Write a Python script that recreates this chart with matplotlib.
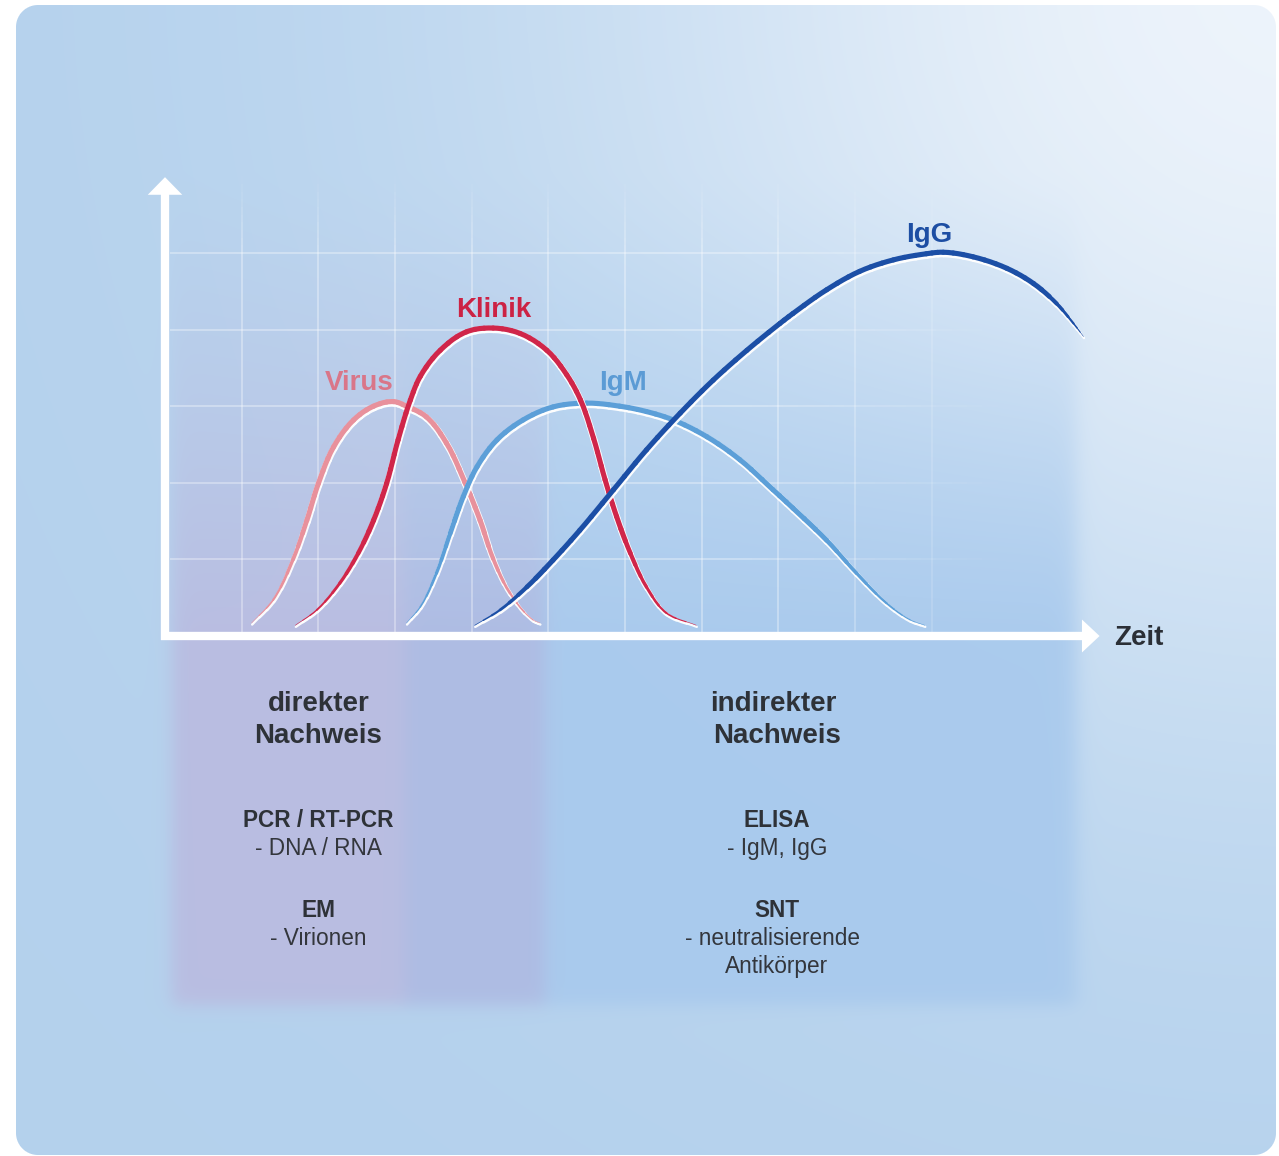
import numpy as np
import matplotlib
matplotlib.use("Agg")
import matplotlib.pyplot as plt
from matplotlib.path import Path
from matplotlib.collections import PathCollection, LineCollection
from matplotlib.patches import Polygon
from matplotlib.transforms import ScaledTranslation

plt.rcParams['font.family'] = ['Liberation Sans', 'DejaVu Sans']

# ---------------- data (schematic curves; grid units) ----------------
virus_x = [1.13, 1.41, 1.67, 1.85, 2.00, 2.20, 2.46, 2.72, 2.98, 3.15, 3.41, 3.67, 3.91, 4.11, 4.28, 4.50, 4.80, 4.89]
virus_y = [0.17, 0.47, 1.00, 1.51, 1.99, 2.47, 2.82, 3.00, 3.06, 3.00, 2.86, 2.52, 2.01, 1.51, 1.01, 0.56, 0.21, 0.17]

klinik_x = [1.70, 1.98, 2.28, 2.52, 2.72, 2.89, 3.04, 3.20, 3.33, 3.59, 3.93, 4.28, 4.63, 4.98, 5.24, 5.42,
            5.59, 5.74, 5.89, 6.07, 6.28, 6.54, 6.93]
klinik_y = [0.14, 0.34, 0.69, 1.08, 1.51, 1.99, 2.56, 3.08, 3.39, 3.73, 3.97, 4.02, 3.95, 3.73, 3.41, 3.08,
            2.58, 2.04, 1.56, 1.08, 0.64, 0.30, 0.14]

igm_x = [3.15, 3.33, 3.54, 3.72, 3.89, 4.07, 4.33, 4.67, 5.06, 5.50, 5.93, 6.28, 6.63, 7.07, 7.50, 7.93,
         8.19, 8.63, 9.02, 9.41, 9.72, 9.91]
igm_y = [0.17, 0.38, 0.82, 1.34, 1.82, 2.21, 2.56, 2.82, 2.99, 3.04, 3.00, 2.93, 2.82, 2.60, 2.30, 1.91,
         1.67, 1.25, 0.82, 0.43, 0.21, 0.14]

igg_x = [4.04, 4.37, 4.72, 5.06, 5.41, 5.85, 6.28, 6.72, 7.15, 7.59, 8.02, 8.19, 8.63, 9.06, 9.50, 9.93,
         10.15, 10.54, 10.98, 11.33, 11.63, 11.85, 11.98]
igg_y = [0.14, 0.34, 0.64, 0.99, 1.38, 1.91, 2.43, 2.91, 3.34, 3.73, 4.08, 4.21, 4.52, 4.76, 4.91, 4.99,
         5.01, 4.95, 4.80, 4.60, 4.34, 4.08, 3.91]

series_names = ["Virus", "IgM", "Klinik", "IgG"]
series_colors = ["#e8919c", "#5c9fd8", "#d0264a", "#1c4fa6"]
label_colors = ["#d97689", "#5b9bd5", "#cc2244", "#1d4ea3"]

axis_label = "Zeit"

left_lines = ["direkter", "Nachweis", "PCR / RT-PCR", "- DNA / RNA", "EM", "- Virionen"]
left_bold = [True, True, True, False, True, False]
left_big = [True, True, False, False, False, False]
right_lines = ["indirekter", "Nachweis", "ELISA", "- IgM, IgG", "SNT", "- neutralisierende", "Antikörper"]
right_bold = [True, True, True, False, True, False, False]
right_big = [True, True, False, False, False, False, False]

# ---------------- geometry (pixels) ----------------
W, H = 1279, 1156
OX, OY = 165.0, 636.0      # pixel of data origin
U, V = 76.67, 76.6         # pixels per grid unit

# ---------------- background image ----------------
yy, xx = np.mgrid[0:H, 0:W].astype(float) + 0.5
sig = lambda z: 1.0 / (1.0 + np.exp(-z))

base = np.array([0.706, 0.820, 0.929])
light = np.array([0.950, 0.968, 0.990])
d = np.hypot(xx - 1300, yy + 30)
wgt = 0.92 * np.exp(-(d / 720.0) ** 2)
img = base[None, None, :] + wgt[..., None] * (light - base)[None, None, :]

c1 = np.array([0.727, 0.735, 0.880])
c2 = np.array([0.680, 0.730, 0.888])
c3 = np.array([0.660, 0.790, 0.930])
t12 = sig((xx - 405) / 5.0)[..., None]
t23 = sig((xx - 545) / 5.0)[..., None]
bcol = c1 * (1 - t12) + c2 * t12
bcol = bcol * (1 - t23) + c3 * t23
mx = sig((xx - 172) / 5.0) * sig((1076 - xx) / 6.0)
my = np.where(yy >= 636, sig((1005 - yy) / 5.0), np.clip((yy - 170) / 466.0, 0, 1) ** 1.3)
a = (0.92 * mx * my)[..., None]
img = img * (1 - a) + bcol * a

x0, x1, y0, y1, r = 16.0, 1276.0, 5.0, 1155.0, 22.0
cx, cy, hw, hh = (x0 + x1) / 2, (y0 + y1) / 2, (x1 - x0) / 2, (y1 - y0) / 2
qx = np.abs(xx - cx) - (hw - r)
qy = np.abs(yy - cy) - (hh - r)
sd = np.hypot(np.maximum(qx, 0), np.maximum(qy, 0)) + np.minimum(np.maximum(qx, qy), 0) - r
inside = np.clip(0.5 - sd, 0, 1)[..., None]
img = 1.0 * (1 - inside) + img * inside

# ---------------- figure ----------------
fig = plt.figure(figsize=(W / 100, H / 100), dpi=100)
fig.figimage(np.clip(img, 0, 1), 0, 0, origin='upper', zorder=-10)
ax = fig.add_axes([0, 0, 1, 1])
ax.set_zorder(5)
ax.set_xlim(-OX / U, (W - OX) / U)
ax.set_ylim((OY - H) / V, OY / V)
ax.axis('off')
ax.patch.set_alpha(0)

# grid (fading)
segs, cols = [], []
for k in range(1, 6):
    xs = np.arange(0.06, 11.0, 0.2)
    for xa in xs:
        xm = xa + 0.1
        al = 0.42 * np.clip((11.0 - xm) / 3.5, 0, 1)
        segs.append([(xa, k), (xa + 0.2, k)])
        cols.append((1, 1, 1, al))
for k in range(1, 11):
    ys = np.arange(0.0, 6.0, 0.1)
    for ya in ys:
        ym = ya + 0.05
        al = 0.42 * np.clip((6.0 - ym) / 1.0, 0, 1) * np.clip((11.5 - k) / 3.5, 0, 1)
        segs.append([(k, ya), (k, ya + 0.1)])
        cols.append((1, 1, 1, al))
ax.add_collection(LineCollection(segs, colors=cols, linewidths=1.1, zorder=1), autolim=False)


# curves: smooth Bezier path through the read points
def split_bezier(b, t):
    p0, p1, p2, p3 = b
    a_ = p0 + (p1 - p0) * t
    b_ = p1 + (p2 - p1) * t
    c_ = p2 + (p3 - p2) * t
    d_ = a_ + (b_ - a_) * t
    e_ = b_ + (c_ - b_) * t
    f_ = d_ + (e_ - d_) * t
    return [p0, a_, d_, f_], [f_, e_, c_, p3]


def unit(v):
    n = np.hypot(*v)
    return v / n if n > 0 else v


def bezier_pieces(xs, ys, sub=3):
    P = np.column_stack([xs, ys]).astype(float)
    n = len(P)
    D = []
    for i in range(n):
        if i == 0:
            D.append(unit(P[1] - P[0]))
        elif i == n - 1:
            D.append(unit(P[-1] - P[-2]))
        else:
            D.append(unit(unit(P[i + 1] - P[i]) + unit(P[i] - P[i - 1])))
    pieces = []
    for i in range(n - 1):
        L = np.hypot(*(P[i + 1] - P[i]))
        rest = [P[i], P[i] + D[i] * L / 3.0, P[i + 1] - D[i + 1] * L / 3.0, P[i + 1]]
        for k in range(sub, 1, -1):
            left, rest = split_bezier(rest, 1.0 / k)
            pieces.append(left)
        pieces.append(rest)
    return pieces


off = ScaledTranslation(0.5 / 100, -1.6 / 100, fig.dpi_scale_trans)
codes = [Path.MOVETO, Path.CURVE4, Path.CURVE4, Path.CURVE4]


def draw_curve(xs, ys, color, wmax, ta, tb, z):
    pieces = bezier_pieces(xs, ys)
    paths = [Path(np.array(pc), codes) for pc in pieces]
    L = np.array([np.hypot(*(pc[3] - pc[0])) for pc in pieces])
    c = np.cumsum(L)
    t = (c - L / 2) / c[-1]
    f = np.clip(np.minimum(t / ta, (1 - t) / tb), 0.05, 1.0) ** 0.75
    widths = wmax * f
    wc = PathCollection(paths, facecolors='none', edgecolors='white', linewidths=widths + 1.3,
                        capstyle='round', joinstyle='round', zorder=z - 0.1, alpha=0.95)
    wc.set_transform(ax.transData + off)
    cc = PathCollection(paths, facecolors='none', edgecolors=color, linewidths=widths,
                        capstyle='round', joinstyle='round', zorder=z)
    cc.set_transform(ax.transData)
    ax.add_collection(wc, autolim=False)
    ax.add_collection(cc, autolim=False)


curve_data = [(virus_x, virus_y), (igm_x, igm_y), (klinik_x, klinik_y), (igg_x, igg_y)]
tapers = [(0.22, 0.2), (0.16, 0.2), (0.16, 0.16), (0.1, 0.08)]
for i, ((xs, ys), col, (ta, tb)) in enumerate(zip(curve_data, series_colors, tapers)):
    draw_curve(xs, ys, col, 3.7, ta, tb, 3 + i)

# curve labels
label_xy = [(2.53, 3.21), (5.98, 3.21), (4.29, 4.17), (9.97, 5.15)]
for name, col, (lx, ly) in zip(series_names, label_colors, label_xy):
    ax.text(lx, ly, name, ha='center', va='baseline', fontsize=20, fontweight='bold', color=col, zorder=9)

# axes arrows
ax.plot([0, 0], [-0.052, 5.78], color='white', lw=6.0, solid_capstyle='butt', zorder=8)
ax.plot([-0.052, 11.98], [0, 0], color='white', lw=6.0, solid_capstyle='butt', zorder=8)
ax.add_patch(Polygon([(-0.225, 5.76), (0.225, 5.76), (0, 5.99)], closed=True, fc='white', ec='none', zorder=8))
ax.add_patch(Polygon([(11.96, -0.215), (11.96, 0.215), (12.19, 0)], closed=True, fc='white', ec='none', zorder=8))
ax.text(12.70, -0.117, axis_label, ha='center', va='baseline', fontsize=20, fontweight='bold', color='#2b2f36', zorder=9)

# bottom texts
left_base = [-0.973, -1.401, -2.493, -2.859, -3.668, -4.034]
right_base = [-0.973, -1.401, -2.493, -2.859, -3.668, -4.034, -4.403]
for txt, b, big, yb in zip(left_lines, left_bold, left_big, left_base):
    ax.text(2.0, yb, txt, ha='center', va='baseline', fontsize=20 if big else 16.3,
            fontweight='bold' if b else 'normal', color='#2e3238' if b else '#33363c', zorder=9)
right_x = [7.93, 7.98, 7.98, 7.98, 7.98, 7.93, 7.98]
for txt, b, big, yb, xr in zip(right_lines, right_bold, right_big, right_base, right_x):
    ax.text(xr, yb, txt, ha='center', va='baseline', fontsize=20 if big else 16.3,
            fontweight='bold' if b else 'normal', color='#2e3238' if b else '#33363c', zorder=9)

fig.savefig('out.png', dpi=100)
